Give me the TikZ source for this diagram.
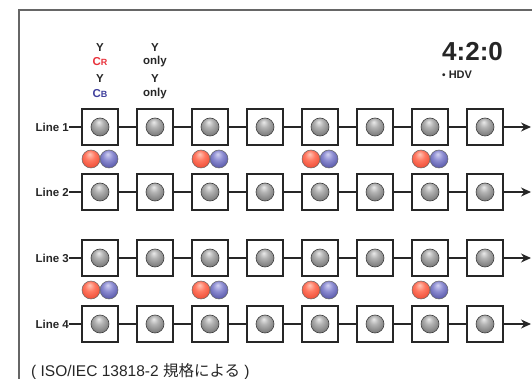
\documentclass[tikz,border=0pt]{standalone}
\usepackage{fontspec}
\setmainfont{Liberation Sans}
\newfontfamily\cjk{Noto Sans CJK JP}
\usetikzlibrary{arrows.meta}

\definecolor{crred}{HTML}{E8303A}
\definecolor{cbblue}{HTML}{3F3F9C}
\definecolor{framegray}{HTML}{666666}

% sample spheres, lit from the top
\pgfdeclareradialshading{lumaball}{\pgfpoint{-4bp}{14bp}}{%
  color(0bp)=(black!8); color(12bp)=(black!30); color(34bp)=(black!58); color(50bp)=(black!80)}
\pgfdeclareradialshading{redball}{\pgfpoint{-4bp}{14bp}}{%
  rgb(0bp)=(1,0.78,0.72); rgb(14bp)=(1,0.47,0.38); rgb(34bp)=(0.92,0.27,0.18); rgb(50bp)=(0.68,0.12,0.06)}
\pgfdeclareradialshading{blueball}{\pgfpoint{-4bp}{14bp}}{%
  rgb(0bp)=(0.82,0.82,0.95); rgb(14bp)=(0.55,0.55,0.82); rgb(34bp)=(0.30,0.30,0.63); rgb(50bp)=(0.13,0.13,0.42)}

\tikzset{
  cell/.style={draw=black!85, line width=1.2pt, fill=white, minimum size=36pt, inner sep=0pt},
  luma/.style={circle, draw=black!75, line width=0.6pt, minimum size=18pt, inner sep=0pt, shading=lumaball},
  chroma/.style={circle, draw=black!60, line width=0.5pt, minimum size=18pt, inner sep=0pt},
  lbl/.style={font=\fontsize{11.5}{12}\selectfont\bfseries, inner sep=0pt, text=black!85},
  wire/.style={line width=1.2pt, draw=black!85}
}

\begin{document}
\begin{tikzpicture}[x=1pt, y=-1pt]
  \useasboundingbox (0,0) rectangle (532,379);
  \clip (0,0) rectangle (532,379);
  \draw[framegray, line width=1.3pt] (19,10) rectangle (545,395);

  % what each column carries
  \node[lbl] (y1) at (100,48) {Y};
  \node[lbl, text=crred] (cr) at (100,62) {C{\fontsize{9}{9}\selectfont R}};
  \node[lbl] (y2) at (100,79) {Y};
  \node[lbl, text=cbblue] (cb) at (100,94) {C{\fontsize{9}{9}\selectfont B}};
  \node[lbl] (y3) at (155,48) {Y};
  \node[lbl] (only1) at (155,62) {only};
  \node[lbl] (y4) at (155,79) {Y};
  \node[lbl] (only2) at (155,94) {only};

  \node[font=\fontsize{26}{26}\selectfont\bfseries, inner sep=0pt, text=black!85, anchor=west] (fmt) at (442,52) {4:2:0};
  \node[lbl, font=\fontsize{11}{12}\selectfont\bfseries, anchor=west] (hdv) at (442,75) {{\fontsize{10}{10}\selectfont\textbullet}\ HDV};

  % four lines of samples
  \foreach \r/\y in {1/127,2/192,3/258,4/324} {
    \node[lbl, anchor=east] (line\r) at (69,\y) {Line \r};
    \foreach \c in {1,...,8} {
      \node[cell] (b\r\c) at ({45+55*\c},\y) {};
      \node[luma] (s\r\c) at (b\r\c) {};
    }
    \draw[wire] (line\r) -- (b\r1);
    \foreach \c [evaluate=\c as \n using int(\c+1)] in {1,...,7}
      \draw[wire] (b\r\c) -- (b\r\n);
    \coordinate (end\r) at (531,\y);
    \draw[wire, -{Stealth[length=10pt, width=9pt]}] (b\r8) -- (end\r);
  }

  % shared chroma samples between line pairs
  \foreach \y/\k in {159/a,290/b} {
    \foreach \c in {1,3,5,7} {
      \node[chroma, shading=redball] (cr\k\c) at ({36+55*\c},\y) {};
      \node[chroma, shading=blueball] (cb\k\c) at ({54+55*\c},\y) {};
    }
  }

  \node[font=\fontsize{15.5}{16}\selectfont, inner sep=0pt, anchor=west, text=black!85] (note) at (31,372) {( ISO/IEC 13818-2 {\cjk 規格による} )};
\end{tikzpicture}
\end{document}
